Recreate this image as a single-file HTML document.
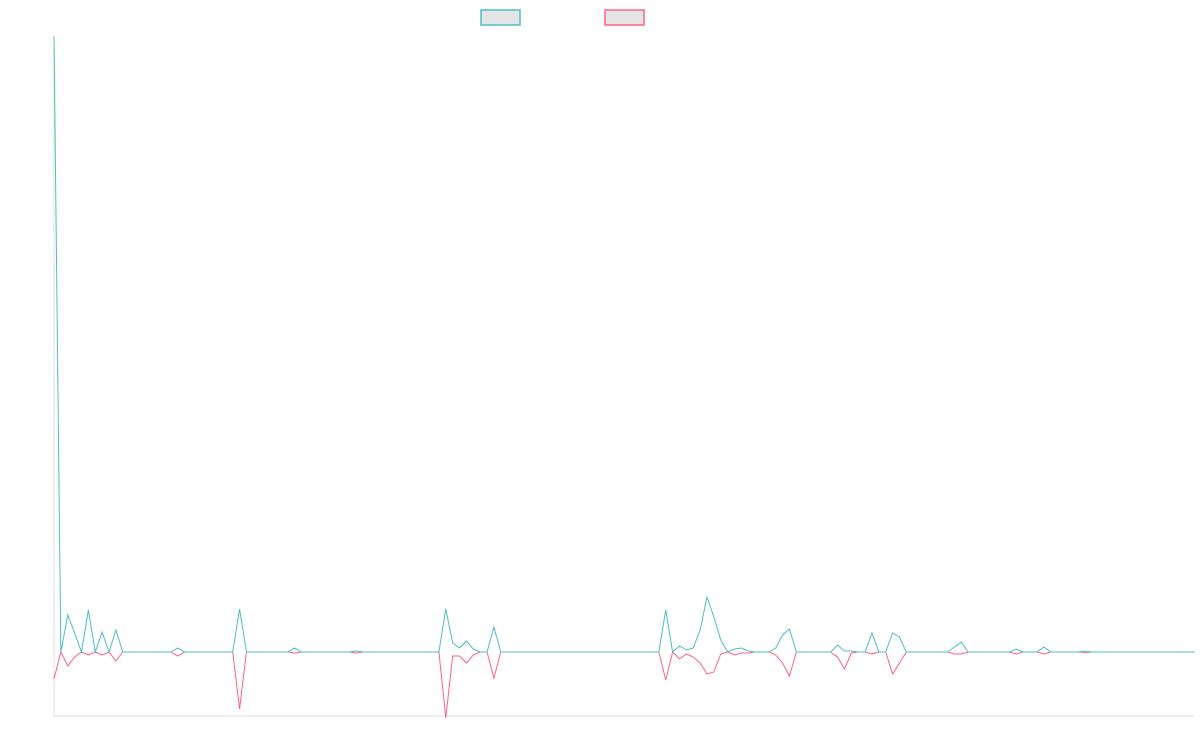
<!DOCTYPE html>
<html><head><meta charset="utf-8"><style>
html,body{margin:0;padding:0;background:#fff;width:1200px;height:750px;overflow:hidden;font-family:"Liberation Sans",sans-serif}
</style></head><body>
<svg id="chart" width="1200" height="750" xmlns="http://www.w3.org/2000/svg">
<rect x="481" y="10" width="39" height="15" fill="#e5e5e5" stroke="rgb(75,192,192)" stroke-width="1.5"/>
<rect x="605" y="10" width="39" height="15" fill="#e5e5e5" stroke="rgb(255,99,132)" stroke-width="1.5"/>
<line x1="54" y1="36" x2="54" y2="716" stroke="#e0e0e0" stroke-width="1"/>
<line x1="54" y1="716" x2="1195" y2="716" stroke="#e0e0e0" stroke-width="1"/>
<g id="plot"></g>
</svg>
<script>
const pointCount = 167;
// sparse data: [index, value]
const seriesA = [[0,616],[2,37],[3,19],[5,42],[7,20],[9,22],[18,4],[27,43],[35,4],[44,1],[57,43],[58,9],[59,4],[60,11],[61,3],[64,25],[89,42],[91,6],[92,2],[93,4],[94,22],[95,55],[96,35],[97,12],[99,3],[100,4],[101,1],[105,4],[106,17],[107,23],[114,7],[115,1],[116,1],[119,19],[122,19],[123,15],[131,5],[132,10],[140,3],[144,5],[150,1]];
const seriesB = [[0,-27],[2,-14],[3,-5],[5,-3],[7,-3],[9,-9],[18,-4],[27,-57],[35,-1],[44,-1],[57,-66],[58,-4],[59,-4],[60,-11],[61,-3],[64,-26],[89,-28],[91,-7],[92,-2],[93,-5],[94,-11],[95,-22],[96,-20],[97,-2],[99,-3],[100,-1],[101,-1],[105,-3],[106,-11],[107,-24],[114,-5],[115,-17],[116,-1],[119,-2],[122,-22],[123,-11],[131,-2],[132,-2],[140,-2],[144,-2],[150,-0.5]];
const yMin = -64, yMax = 616;
const x0 = 54, x1 = 1195, yTop = 36, yBottom = 716;
function xScale(i){ return x0 + i*(x1-x0)/(pointCount-1); }
function yScale(v){ return yBottom - (v - yMin)*(yBottom-yTop)/(yMax-yMin); }
function expand(sparse){ const a = new Array(pointCount).fill(0); sparse.forEach(p=>{a[p[0]]=p[1];}); return a; }
const plot = document.getElementById('plot');
function drawLine(sparse, color, name){
  const vals = expand(sparse);
  const d = vals.map((v,i)=>(i?'L':'M')+xScale(i).toFixed(2)+','+yScale(v).toFixed(2)).join('');
  const p = document.createElementNS('http://www.w3.org/2000/svg','path');
  p.setAttribute('d', d);
  p.setAttribute('fill','none');
  p.setAttribute('stroke', color);
  p.setAttribute('stroke-width','1');
  
  
  plot.appendChild(p);
}
drawLine(seriesB, 'rgb(255,99,132)', 'series-2-line');
drawLine(seriesA, 'rgb(75,192,192)', 'series-1-line');
</script>
</body></html>
